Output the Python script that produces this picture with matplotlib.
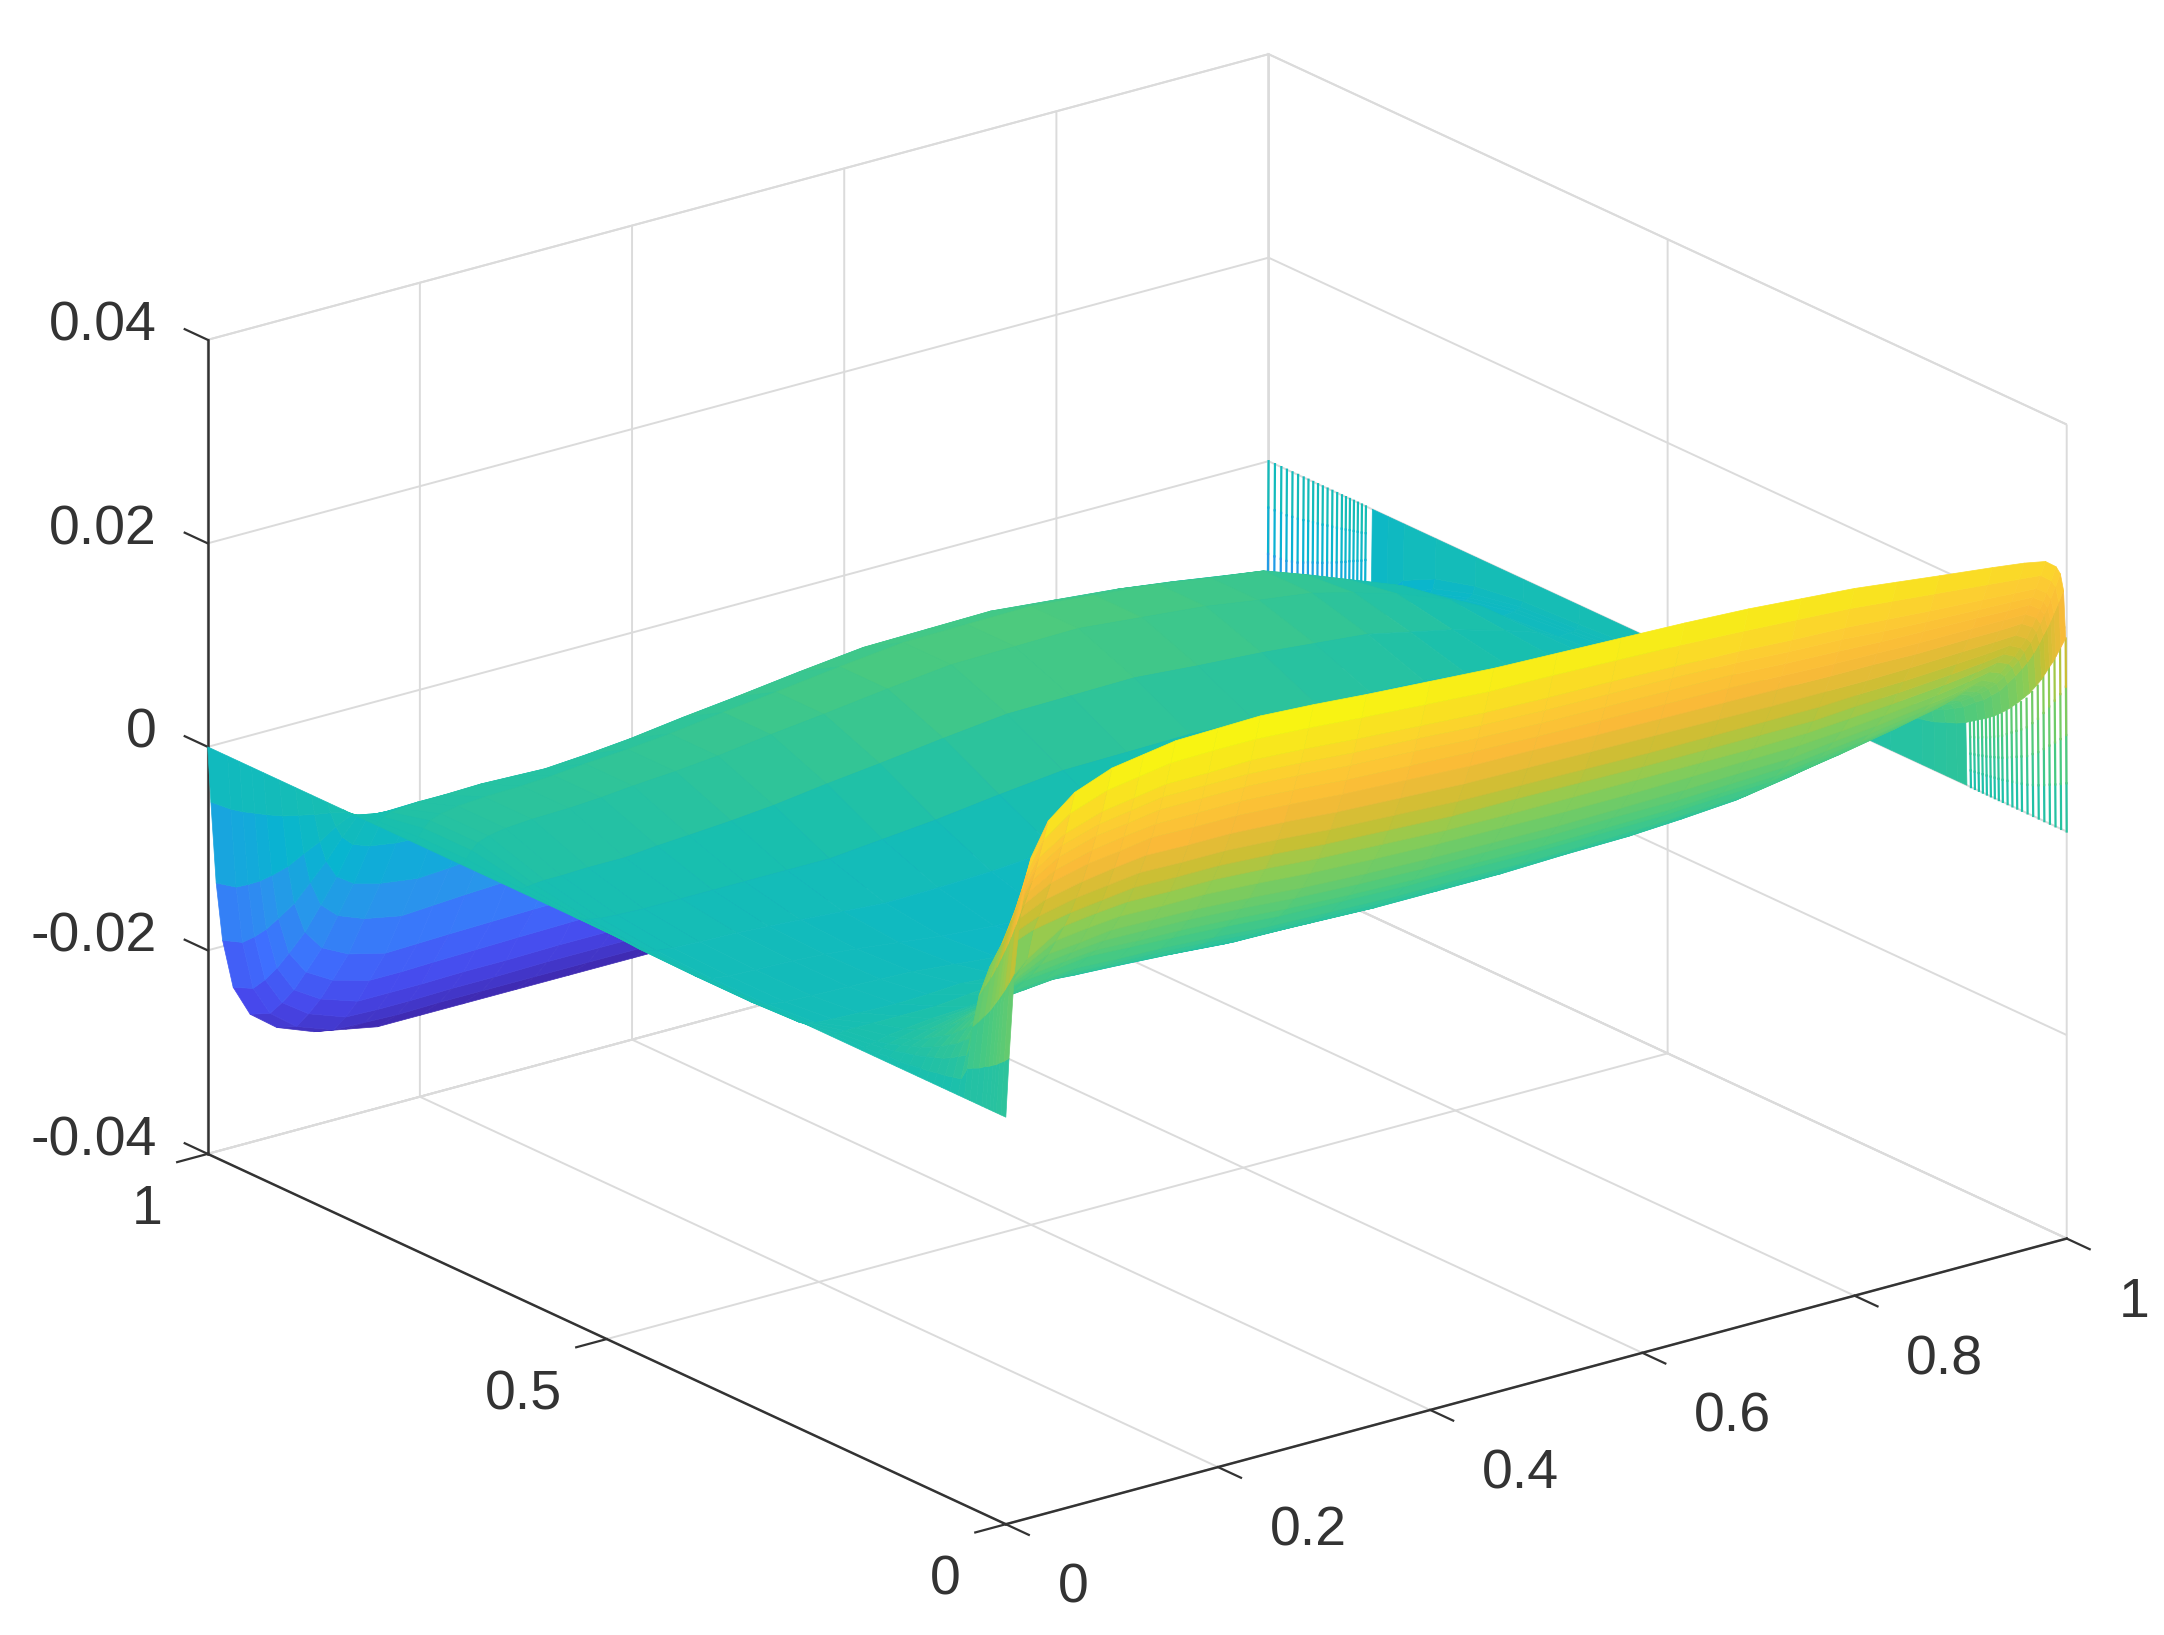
import numpy as np
import matplotlib
matplotlib.use("Agg")
import matplotlib.pyplot as plt
from matplotlib.colors import LinearSegmentedColormap, Normalize
from matplotlib.transforms import ScaledTranslation

plt.rcParams['font.family'] = ['Liberation Sans', 'DejaVu Sans']
plt.rcParams['axes.unicode_minus'] = False

x_nodes = [0, .003, .008, .014, .024, .04, .065, .1, .13, .16, .2, .24, .29, .34, .4, .46, .52, .58, .64, .7, .75, .8, .84, .88, .93, .96, .98, .99, .994, .997, .999, 1]
y_nodes = [0, .006, .012, .016, .02, .025, .03, .037, .045, .052, .06, .07, .08, .09, .1, .11, .125, .137, .15, .165, .18, .22, .27, .33, .4, .47, .54, .61, .68, .74, .79, .83, .85, .87, .89, .91, .93, .945, .96, .975, 1]

# surface height, units of 1e-4; one row per x node, one value per y node
z_table = [
 [0]*41,
 [57,52,48,45,43,40,38,34,31,28,15,13,11,10,8,7,5,4,4,2,2,0,-3,-4,-4,-3,-2,1,5,5,2,-3,-11,-20,-28,-36,-42,-46,-50,-53,-55],
 [139,128,118,112,106,99,92,84,75,68,37,32,27,23,20,17,13,11,8,6,4,0,-7,-9,-9,-8,-4,2,12,12,5,-7,-26,-48,-67,-87,-103,-114,-123,-131,-136],
 [198,183,169,160,152,142,132,120,108,97,52,46,39,34,29,25,19,16,12,8,5,1,-9,-13,-13,-11,-6,3,18,18,8,-9,-38,-69,-97,-125,-147,-163,-176,-187,-194],
 [249,230,212,201,190,178,166,150,135,122,70,61,52,45,38,33,26,20,15,11,8,1,-12,-16,-16,-14,-8,4,22,22,9,-12,-48,-87,-122,-156,-184,-204,-221,-235,-243],
 [280,259,239,226,214,200,187,170,152,137,90,78,67,58,50,43,33,26,20,15,10,1,-13,-18,-18,-16,-9,4,25,25,11,-13,-54,-98,-137,-176,-207,-230,-248,-264,-274],
 [301,278,256,243,230,215,201,182,163,147,115,100,85,74,64,55,42,34,26,19,13,1,-14,-19,-19,-17,-10,5,27,27,11,-14,-58,-105,-147,-189,-222,-246,-266,-284,-294],
 [315,291,268,254,241,225,210,190,171,154,138,120,103,89,76,66,50,40,31,23,15,1,-15,-20,-20,-18,-10,5,28,28,12,-15,-60,-110,-154,-198,-232,-258,-279,-297,-308],
 [320,296,273,259,245,230,214,195,175,158,142,124,106,93,80,69,53,43,34,26,18,4,-14,-21,-22,-20,-10,8,30,30,11,-21,-63,-108,-152,-197,-232,-258,-280,-298,-314],
 [325,301,278,264,250,234,219,199,179,162,145,127,110,96,83,73,56,46,37,29,21,7,-12,-22,-25,-22,-10,10,33,33,10,-28,-66,-105,-150,-196,-231,-258,-280,-299,-320],
 [326,302,278,264,250,234,218,198,178,161,144,126,109,95,81,71,54,44,35,27,18,4,-15,-26,-30,-25,-10,13,36,36,13,-24,-63,-102,-148,-195,-230,-257,-279,-298,-320],
 [327,302,279,264,250,234,218,198,178,161,144,126,108,94,80,69,53,43,33,25,16,2,-18,-30,-35,-28,-10,17,40,40,17,-20,-60,-100,-147,-194,-229,-257,-279,-298,-320],
 [324,299,276,261,247,231,215,195,175,158,141,123,105,91,77,66,50,40,30,21,13,-2,-22,-34,-39,-27,-5,24,47,47,24,-14,-56,-98,-145,-193,-228,-256,-278,-298,-320],
 [320,295,272,257,243,227,211,191,171,154,137,119,101,87,73,62,46,36,26,17,9,-5,-25,-38,-42,-25,0,30,53,53,30,-8,-52,-95,-143,-192,-227,-256,-278,-298,-320],
 [316,291,268,254,240,224,208,188,168,151,134,116,98,84,70,60,44,34,24,16,8,-6,-25,-37,-40,-20,8,38,61,61,38,-2,-47,-92,-142,-191,-227,-256,-278,-298,-320],
 [312,287,264,250,236,221,205,185,165,148,131,114,96,82,68,58,42,32,22,14,6,-8,-25,-35,-38,-15,15,45,68,68,45,5,-42,-90,-140,-190,-226,-255,-277,-298,-320],
 [310,286,262,248,234,219,204,184,164,148,130,113,95,82,68,58,42,32,22,14,6,-8,-25,-34,-36,-14,16,46,69,69,46,6,-42,-89,-139,-188,-224,-252,-274,-296,-318],
 [308,284,261,247,233,218,202,183,163,147,130,112,94,81,67,57,41,32,22,14,5,-8,-25,-33,-34,-12,17,47,70,70,47,6,-41,-88,-138,-187,-222,-250,-272,-294,-315],
 [306,282,259,246,232,217,201,182,162,146,130,112,95,82,68,58,42,33,24,16,7,-6,-22,-29,-30,-11,14,42,64,64,41,0,-44,-90,-138,-186,-221,-249,-270,-292,-312],
 [303,279,257,244,231,216,200,181,162,146,130,113,96,82,69,59,44,34,25,17,9,-4,-18,-25,-25,-10,12,38,58,58,35,-5,-48,-92,-139,-186,-220,-248,-269,-290,-310],
 [299,276,254,241,228,214,199,180,162,146,130,114,98,84,72,62,47,38,28,21,14,0,-12,-20,-20,-8,10,33,50,50,28,-12,-53,-95,-140,-186,-218,-246,-266,-287,-305],
 [295,273,252,239,226,212,198,180,162,146,131,115,99,86,74,64,50,41,32,25,18,5,-6,-14,-14,-6,8,28,43,43,20,-18,-58,-98,-142,-186,-217,-244,-264,-284,-300],
 [290,269,249,236,224,211,198,180,164,149,134,118,104,91,80,70,57,48,40,33,26,14,3,-6,-9,-5,4,19,32,28,8,-26,-64,-102,-144,-186,-216,-242,-261,-280,-295],
 [285,265,246,234,223,210,197,181,165,151,137,122,108,96,85,76,64,56,48,41,34,23,12,2,-4,-5,0,10,20,12,-5,-35,-70,-105,-145,-186,-214,-240,-258,-276,-290],
 [279,260,243,232,222,210,198,183,168,155,142,128,115,104,94,86,74,67,60,53,47,37,25,12,0,-8,-10,-5,0,-8,-25,-52,-83,-115,-151,-188,-214,-236,-252,-268,-280],
 [275,257,241,231,221,210,198,184,170,158,146,133,120,110,100,92,81,74,67,61,56,46,34,20,5,-8,-15,-15,-15,-25,-40,-65,-93,-122,-156,-190,-213,-232,-247,-262,-270],
 [271,255,240,230,221,210,199,185,172,161,150,137,125,116,107,100,89,82,75,69,64,55,40,25,8,-8,-20,-25,-30,-40,-55,-78,-104,-130,-160,-190,-211,-228,-242,-255,-260],
 [263,247,233,223,214,204,193,179,167,156,146,133,121,113,104,97,86,80,73,67,62,53,39,24,8,-8,-19,-24,-29,-39,-53,-76,-101,-126,-155,-184,-205,-221,-235,-247,-252],
 [255,240,226,216,208,197,187,174,162,151,141,129,118,109,101,94,84,77,71,65,60,52,38,24,8,-8,-19,-24,-28,-38,-52,-73,-98,-122,-150,-179,-198,-214,-227,-240,-244],
 [238,224,211,202,194,185,175,163,151,142,132,121,110,102,94,88,78,72,66,61,56,48,35,22,7,-7,-18,-22,-26,-35,-48,-69,-92,-114,-141,-167,-186,-201,-213,-224,-229],
 [190,179,168,161,155,147,139,130,120,113,105,96,88,81,75,70,62,57,53,48,45,39,28,18,6,-6,-14,-18,-21,-28,-39,-55,-73,-91,-112,-133,-148,-160,-169,-179,-182],
 [0]*41,
]

# separate mesh lines visible at the two x=1 corners (height at x=.999, units of 1e-4)
wire_near_y = [0, .007, .014, .021, .028, .035, .042, .049, .056, .062, .068, .074, .08, .085, .09, .095, .1, .105, .11, .115, .12]
wire_near_z = [190, 177, 165, 154, 142, 131, 122, 113, 107, 102, 97, 92, 87, 84, 81, 78, 75, 73, 70, 68, 66]
wire_far_y = [1, .992, .984, .977, .97, .963, .956, .95, .944, .938, .932, .926, .92, .914, .908, .903, .898, .893, .888, .883, .878]
wire_far_z = [-182, -181, -180, -179, -175, -172, -167, -162, -158, -154, -150, -145, -141, -136, -131, -127, -122, -118, -114, -110, -105]

x_ticks = [0, .2, .4, .6, .8, 1]
x_tick_labels = ['0', '0.2', '0.4', '0.6', '0.8', '1']
y_ticks = [0, .5, 1]
y_tick_labels = ['0', '0.5', '1']
z_ticks = [-.04, -.02, 0, .02, .04]
z_tick_labels = ['-0.04', '-0.02', '0', '0.02', '0.04']

parula = LinearSegmentedColormap.from_list('parula_like', [
    (0.00, (.2422, .1504, .6603)), (0.10, (.2803, .2782, .9221)), (0.20, (.2440, .4358, .9988)),
    (0.30, (.1540, .5902, .9218)), (0.40, (.0297, .7082, .8163)), (0.50, (.1000, .7500, .6800)),
    (0.60, (.2900, .7900, .5000)), (0.70, (.5500, .8000, .3300)), (0.75, (.7800, .7500, .2000)),
    (0.82, (.9800, .7300, .2200)), (0.88, (.9900, .8000, .2000)), (0.95, (.9700, .9200, .1000)),
    (1.00, (.9763, .9831, .0538))])
norm = Normalize(-.032, .0327)

DARK = (.2, .2, .2)
LIGHT = (.86, .86, .86)

fig = plt.figure(figsize=(21.64, 16.35), dpi=100, facecolor='white')
ax = fig.add_axes([.0153, .0038, 1, 1], projection='3d', facecolor='white')
ax.set_proj_type('ortho')
ax.view_init(elev=20.7, azim=-127.3)
ax.set_box_aspect((967, 955, 631), zoom=1.227)
ax.computed_zorder = False

X, Y = np.meshgrid(x_nodes, y_nodes)
Z = np.array(z_table, dtype=float).T * 1e-4
cell = (Z[:-1, :-1] + Z[1:, :-1] + Z[:-1, 1:] + Z[1:, 1:]) / 4
colors = np.zeros(Z.shape + (4,))
colors[:-1, :-1] = parula(norm(cell))
colors[:16, 30, 3] = 0
colors[33:40, 30, 3] = 0

for ys, zs in ((wire_near_y, wire_near_z), (wire_far_y, wire_far_z)):
    for yv, zv in zip(ys, zs):
        zv = zv * 1e-4
        for f0, f1 in ((0, .25), (.25, .5), (.5, .75), (.75, 1)):
            ax.plot([1 - .001 * f0, 1 - .001 * f1], [yv, yv], [zv * f0, zv * f1],
                    color=parula(norm(zv * (f0 + f1) / 2)), lw=1.6, zorder=2, clip_on=False)

surf = ax.plot_surface(X, Y, Z, rstride=1, cstride=1, facecolors=colors, shade=False, linewidth=.5, zorder=3)
surf.set_clip_on(False)

ax.set_xlim(0, 1, view_margin=0)
ax.set_ylim(0, 1, view_margin=0)
ax.set_zlim(-.04, .04, view_margin=0)
ax.set_xticks(x_ticks, x_tick_labels)
ax.set_yticks(y_ticks, y_tick_labels)
ax.set_zticks(z_ticks, z_tick_labels)
ax.tick_params(axis='both', labelsize=40, labelcolor=DARK, color=DARK, width=1.6)
ax.tick_params(axis='x', pad=22)
ax.tick_params(axis='y', pad=22)
ax.tick_params(axis='z', pad=22)

for axis in (ax.xaxis, ax.yaxis, ax.zaxis):
    axis.set_pane_color((1, 1, 1, 1))
    axis.pane.set_edgecolor(LIGHT)
    axis.pane.set_linewidth(1.4)
    axis.line.set_color(DARK)
    axis.line.set_linewidth(1.8)
    axis._axinfo['grid'].update(color=LIGHT, linewidth=1.4)
    axis._axinfo['tick']['linewidth'] = {True: 1.6, False: 1.0}
ax.xaxis._axinfo['tick'].update(inward_factor=0, outward_factor=-.36)
ax.yaxis._axinfo['tick'].update(inward_factor=0, outward_factor=-.36)
ax.zaxis._axinfo['tick'].update(inward_factor=0, outward_factor=.36)
ax.zaxis._get_tickdir = lambda position: 1

def nudge(axis, ha, dx, dy):
    for lab in axis.get_ticklabels():
        lab.set_ha(ha)
        lab.set_transform(ax.transData + ScaledTranslation(dx / 72, dy / 72, fig.dpi_scale_trans))
        lab.set_transform = lambda t: None

nudge(ax.xaxis, 'left', 9, 14)
nudge(ax.yaxis, 'right', 5, 17)
nudge(ax.zaxis, 'right', 29, 25)

fig.savefig('out.png', dpi=100, facecolor='white')
